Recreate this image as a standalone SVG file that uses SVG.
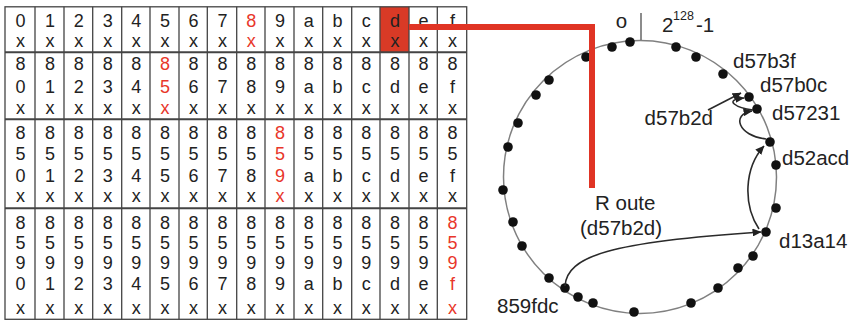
<svg xmlns="http://www.w3.org/2000/svg" width="854" height="321" viewBox="0 0 854 321">
<defs>
<style>
.t{font-family:"Liberation Sans",Arial,sans-serif;font-size:18px;fill:#222;text-anchor:middle}
.r{fill:#e8362a}
.grid{stroke:#444;stroke-width:1.3;fill:none}
.sep{stroke:#444;stroke-width:2;fill:none}
.lbl{font-family:"Liberation Sans",Arial,sans-serif;font-size:20.5px;fill:#222}
.dot{fill:#111}
.ring{fill:none;stroke:#808080;stroke-width:1.5}
.conn{fill:none;stroke:#2a2a2a;stroke-width:1.6}
</style>
<marker id="ah" viewBox="0 0 9 8" refX="8.5" refY="4" markerWidth="9" markerHeight="8" markerUnits="userSpaceOnUse" orient="auto">
<path d="M0,0 L9,4 L0,8 z" fill="#222"/>
</marker>
</defs>
<rect width="854" height="321" fill="#fff"/>

<g id="table">
<rect x="380" y="6.8" width="29" height="45.5" fill="#d93a26"/>
<rect class="grid" x="5" y="6.8" width="461.7" height="312.5"/>
<path class="grid" d="M35,6.8V319.3M64,6.8V319.3M92.7,6.8V319.3M121.7,6.8V319.3M150,6.8V319.3M179,6.8V319.3M207.3,6.8V319.3M236.7,6.8V319.3M265,6.8V319.3M294,6.8V319.3M322.7,6.8V319.3M351.7,6.8V319.3M380,6.8V319.3M409,6.8V319.3M437.3,6.8V319.3"/>
<path class="sep" d="M5,52.3H466.7M5,119.3H466.7M5,208.3H466.7"/>

<text class="t" y="26.5"><tspan x="20.5 50 78.8 107.7 136.3 165 193.6 222.5">01234567</tspan><tspan class="r" x="251.3">8</tspan><tspan x="280 308.8 337.6 366.3 395 423.6 452.5">9abcdef</tspan></text>
<text class="t" y="47"><tspan x="20.5 50 78.8 107.7 136.3 165 193.6 222.5">xxxxxxxx</tspan><tspan class="r" x="251.3">x</tspan><tspan x="280 308.8 337.6 366.3 395 423.6 452.5">xxxxxxx</tspan></text>

<text class="t" y="70"><tspan x="20.5 50 78.8 107.7 136.3">88888</tspan><tspan class="r" x="165">8</tspan><tspan x="193.6 222.5 251.3 280 308.8 337.6 366.3 395 423.6 452.5">8888888888</tspan></text>
<text class="t" y="92.5"><tspan x="20.5 50 78.8 107.7 136.3">01234</tspan><tspan class="r" x="165">5</tspan><tspan x="193.6 222.5 251.3 280 308.8 337.6 366.3 395 423.6 452.5">6789abcdef</tspan></text>
<text class="t" y="113.5"><tspan x="20.5 50 78.8 107.7 136.3">xxxxx</tspan><tspan class="r" x="165">x</tspan><tspan x="193.6 222.5 251.3 280 308.8 337.6 366.3 395 423.6 452.5">xxxxxxxxxx</tspan></text>

<text class="t" y="138.5"><tspan x="20.5 50 78.8 107.7 136.3 165 193.6 222.5 251.3">888888888</tspan><tspan class="r" x="280">8</tspan><tspan x="308.8 337.6 366.3 395 423.6 452.5">888888</tspan></text>
<text class="t" y="160"><tspan x="20.5 50 78.8 107.7 136.3 165 193.6 222.5 251.3">555555555</tspan><tspan class="r" x="280">5</tspan><tspan x="308.8 337.6 366.3 395 423.6 452.5">555555</tspan></text>
<text class="t" y="181.5"><tspan x="20.5 50 78.8 107.7 136.3 165 193.6 222.5 251.3">012345678</tspan><tspan class="r" x="280">9</tspan><tspan x="308.8 337.6 366.3 395 423.6 452.5">abcdef</tspan></text>
<text class="t" y="201.5"><tspan x="20.5 50 78.8 107.7 136.3 165 193.6 222.5 251.3">xxxxxxxxx</tspan><tspan class="r" x="280">x</tspan><tspan x="308.8 337.6 366.3 395 423.6 452.5">xxxxxx</tspan></text>

<text class="t" y="228.5"><tspan x="20.5 50 78.8 107.7 136.3 165 193.6 222.5 251.3 280 308.8 337.6 366.3 395 423.6">888888888888888</tspan><tspan class="r" x="452.5">8</tspan></text>
<text class="t" y="249"><tspan x="20.5 50 78.8 107.7 136.3 165 193.6 222.5 251.3 280 308.8 337.6 366.3 395 423.6">555555555555555</tspan><tspan class="r" x="452.5">5</tspan></text>
<text class="t" y="268.5"><tspan x="20.5 50 78.8 107.7 136.3 165 193.6 222.5 251.3 280 308.8 337.6 366.3 395 423.6">999999999999999</tspan><tspan class="r" x="452.5">9</tspan></text>
<text class="t" y="289.5"><tspan x="20.5 50 78.8 107.7 136.3 165 193.6 222.5 251.3 280 308.8 337.6 366.3 395 423.6">0123456789abcde</tspan><tspan class="r" x="452.5">f</tspan></text>
<text class="t" y="313.5"><tspan x="20.5 50 78.8 107.7 136.3 165 193.6 222.5 251.3 280 308.8 337.6 366.3 395 423.6">xxxxxxxxxxxxxxx</tspan><tspan class="r" x="452.5">x</tspan></text>
</g>

<g id="ring">
<circle class="ring" cx="640" cy="177" r="136.5"/>
<g class="dot">
<circle cx="586" cy="57" r="4.8"/><circle cx="612" cy="47" r="4.8"/><circle cx="630" cy="42" r="4.8"/>
<circle cx="676" cy="47" r="4.8"/><circle cx="696" cy="57" r="4.8"/>
<circle cx="776" cy="165" r="4.8"/><circle cx="776" cy="208" r="4.8"/>
<circle cx="753" cy="256" r="4.8"/><circle cx="738" cy="268" r="4.8"/><circle cx="718" cy="288" r="4.8"/><circle cx="691" cy="303" r="4.8"/>
<circle cx="634" cy="312" r="4.8"/><circle cx="593" cy="303" r="4.8"/><circle cx="578" cy="297" r="4.8"/>
<circle cx="549" cy="278" r="4.8"/><circle cx="522" cy="246" r="4.8"/><circle cx="513" cy="222" r="4.8"/><circle cx="503" cy="190" r="4.8"/>
<circle cx="508" cy="147" r="4.8"/><circle cx="518" cy="123" r="4.8"/><circle cx="536" cy="95" r="4.8"/><circle cx="549" cy="80" r="4.8"/>
</g>
</g>

<g id="origin">
<line x1="641" y1="13" x2="641" y2="40" stroke="#666" stroke-width="1.5"/>
<text class="lbl" x="621.5" y="28" font-size="21" text-anchor="middle">o</text>
<text class="lbl" font-size="20.5"><tspan x="662" y="32">2</tspan><tspan x="673" y="20" font-size="12.5">128</tspan><tspan x="696" y="32">-1</tspan></text>
</g>

<g id="node-d57b3f"><circle class="dot" cx="723" cy="74" r="4.8"/><text class="lbl" x="733" y="68">d57b3f</text></g>
<g id="node-d57b0c"><circle class="dot" cx="749" cy="97" r="4.8"/><text class="lbl" x="760" y="92">d57b0c</text></g>
<g id="node-d57231"><circle class="dot" cx="757" cy="109" r="4.8"/><text class="lbl" x="772" y="120">d57231</text></g>
<g id="node-d52acd"><circle class="dot" cx="770" cy="142" r="4.8"/><text class="lbl" x="782" y="165">d52acd</text></g>
<g id="node-d13a14"><circle class="dot" cx="766" cy="232" r="4.8"/><text class="lbl" x="779" y="248">d13a14</text></g>
<g id="node-859fdc"><circle class="dot" cx="565" cy="288" r="4.8"/><text class="lbl" x="497" y="313">859fdc</text></g>
<g id="node-d57b2d"><text class="lbl" x="713" y="125" text-anchor="end">d57b2d</text></g>
<g id="node-route"><text class="lbl" x="595" y="210">R oute</text><text class="lbl" x="580" y="235">(d57b2d)</text></g>

<g id="connectors">
<path d="M409,27H592V188" fill="none" stroke="#e03424" stroke-width="6"/>
<path class="conn" d="M565,286 C567,256 610,242 761,232" marker-end="url(#ah)"/>
<path class="conn" d="M759,229 C743,205 744,168 764,146" marker-end="url(#ah)"/>
<path class="conn" d="M766,139 C738,136 731,114 752,111" marker-end="url(#ah)"/>
<path class="conn" d="M753,110 C737,108 722,100 744,98" marker-end="url(#ah)"/>
<path class="conn" d="M708,110 L741,93" marker-end="url(#ah)"/>
</g>
</svg>
